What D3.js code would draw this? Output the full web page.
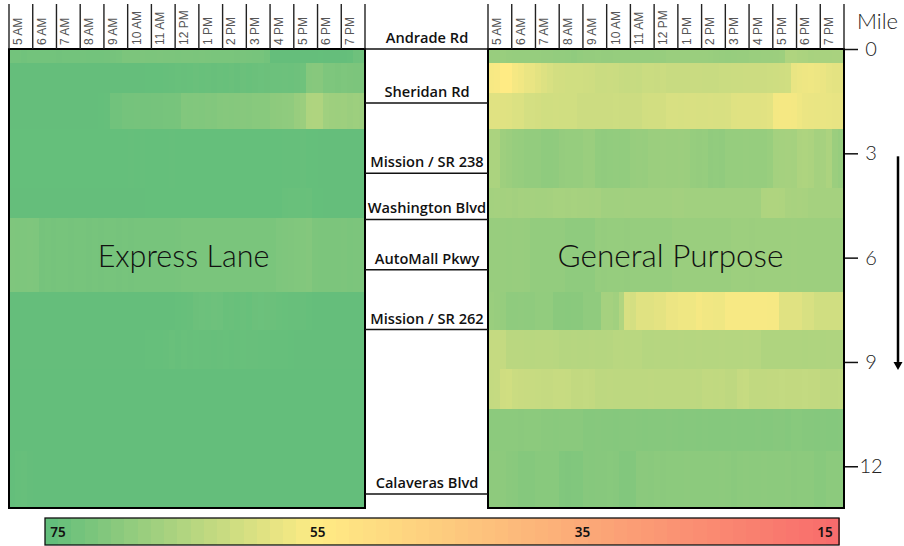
<!DOCTYPE html>
<html>
<head>
<meta charset="utf-8">
<script src="https://cdn.jsdelivr.net/npm/d3@7"></script>
<style>
  body { margin: 0; background: white; }
  svg { display: block; }
</style>
</head>
<body>
<div id="chart"></div>
<script>
// hours across the top, each one is 4 quarter hour columns
const hours = ["5 AM","6 AM","7 AM","8 AM","9 AM","10 AM","11 AM","12 PM","1 PM","2 PM","3 PM","4 PM","5 PM","6 PM","7 PM"];
// band edges along the corridor, in miles
const bandEdges = [0,0.4,1.27,2.3,4.0,4.85,7.0,8.07,9.2,10.35,11.55,13.2];
const roads = ["Andrade Rd","Sheridan Rd","Mission / SR 238","Washington Blvd","AutoMall Pkwy","Mission / SR 262","Calaveras Blvd"];
const roadMiles = [0,1.55,3.57,4.9,6.35,8.07,12.8];
const mileTicks = [0,3,6,9,12];
const legendLabels = [75,55,35,15];

// speeds, one row per band, 60 quarter hours per row
const expressSpeeds = [
  [73,73,73.2,73,73,72.9,73,73,73.1,73,73,73,72.8,73,73,73,72.8,72.6,72.5,71.8,71.8,71.8,71.7,71.8,71.8,71.7,71.8,71.8,71.9,71.8,71.8,71.9,71.8,71.9,72,72,72,72,72.2,72.2,72.3,72.4,72.5,73,74.8,74.8,74.8,74.8,74.8,74.8,74.8,74.8,74.7,74.8,74.8,74.8,74.8,74.6,73.6,73.5],
  [74.8,74.8,74.8,74.8,74.8,74.8,74.8,74.8,74.8,74.8,74.8,74.8,74.8,74.8,74.8,74.8,74.8,74.8,74.8,74.8,74.8,74.8,74.8,74.7,74.7,74.7,74.6,74.5,74.3,74.4,74.3,74.1,74.3,74.2,74.4,74.2,74.3,74.1,74.4,74,74.2,74,73.8,73.9,73.8,73.8,73.7,73.8,73.6,73.4,70.6,70.4,70.4,71.6,71.6,71.8,71.5,71.7,71.8,71.8],
  [74.8,74.8,74.8,74.8,74.8,74.8,74.8,74.8,74.8,74.8,74.8,74.8,74.8,74.8,74.8,74.7,74.6,73.2,73.2,72.7,72.7,72.6,72.7,72.7,72.6,72.6,72.5,72.4,72.3,71,71.2,71,71.1,70.9,71,70.6,70.5,70.6,70.5,70.4,70.5,70.3,70.3,70.2,69.6,69.5,69.3,69.2,68.2,67.8,65.4,65.2,65.3,67.2,67.5,67.6,67.4,67.8,67.6,67.7],
  [74.7,74.7,74.7,74.7,74.7,74.7,74.7,74.7,74.7,74.7,74.7,74.7,74.7,74.7,74.7,74.7,74.7,74.7,74.7,74.7,74.6,74.7,74.6,74.7,74.7,74.7,74.7,74.6,74.7,74.7,74.7,74.7,74.7,74.7,74.7,74.7,74.7,74.7,74.7,74.7,74.7,74.7,74.7,74.7,74.7,74.7,74.6,74.6,74.6,74.5,74.7,74.7,74.8,74.8,74.8,74.8,74.8,74.8,74.8,74.8],
  [74.8,74.8,74.8,74.8,74.8,74.8,74.8,74.8,74.8,74.8,74.8,74.8,74.8,74.8,74.8,74.8,74.8,74.8,74.8,74.8,74.8,74.8,74.8,74.7,74.7,74.7,74.7,74.7,74.7,74.7,74.7,74.7,74.7,74.7,74.7,74.7,74.7,74.7,74.7,74.7,74.7,74.7,74.7,74.7,74.7,74.7,74.3,74.2,74.2,74.3,74.2,74.7,74.7,74.8,74.8,74.8,74.8,74.8,74.8,74.8],
  [71.4,71.5,71.6,71.4,71.5,72.6,72.4,72.6,72.5,72.5,72.6,72.4,72.5,72.6,72.5,72.6,72.5,72.5,72.6,72.5,72.6,72.5,72.4,72.5,72.5,72.4,72.4,72.4,72.3,72,72,72.1,72,72,72.1,72,72,72.1,72,72,72,72,72,72,72,71.6,71.4,71.3,71.2,71,70.8,71.7,71.8,71.8,71.8,71.8,71.7,71.9,71.8,71.8],
  [74.8,74.8,74.8,74.8,74.8,74.8,74.8,74.8,74.8,74.8,74.8,74.8,74.8,74.8,74.8,74.8,74.8,74.8,74.8,74.8,74.8,74.8,74.8,74.8,74.8,74.8,74.8,74.8,74.6,74.5,74.4,73.9,73.7,73.8,73.6,73.7,74.2,74.1,74.3,74.1,74.3,73.9,73.8,73.9,74,74.2,74.3,74.4,74.4,74.4,74.6,74.8,74.8,74.8,74.8,74.8,74.8,74.8,74.8,74.8],
  [74.8,74.8,74.8,74.8,74.8,74.8,74.8,74.8,74.8,74.8,74.8,74.8,74.8,74.8,74.8,74.8,74.8,74.8,74.8,74.8,74.8,74.8,74.8,74.6,74.6,74.6,74.5,74.2,74.5,74.2,74.4,74.3,74.4,74.4,74.5,74.4,74.3,74.5,74.4,74.3,74.4,74.4,74.5,74.5,74.6,74.6,74.6,74.7,74.8,74.8,74.8,74.8,74.8,74.8,74.8,74.8,74.8,74.8,74.8,74.8],
  [74.9,74.9,74.9,74.9,74.9,74.9,74.9,74.9,74.9,74.9,74.9,74.9,74.9,74.9,74.9,74.9,74.9,74.9,74.9,74.9,74.9,74.9,74.9,74.9,74.9,74.9,74.9,74.9,74.9,74.9,74.9,74.9,74.9,74.9,74.9,74.9,74.9,74.9,74.9,74.9,74.9,74.9,74.9,74.9,74.9,74.9,74.9,74.9,74.9,74.9,74.9,74.9,74.9,74.9,74.9,74.9,74.9,74.9,74.9,74.9],
  [74.9,74.9,74.9,74.9,74.9,74.9,74.9,74.9,74.9,74.9,74.9,74.9,74.9,74.9,74.9,74.9,74.9,74.9,74.9,74.9,74.9,74.9,74.9,74.9,74.9,74.9,74.9,74.9,74.9,74.9,74.9,74.9,74.9,74.9,74.9,74.9,74.9,74.9,74.9,74.9,74.9,74.9,74.9,74.9,74.9,74.9,74.9,74.9,74.9,74.9,74.9,74.9,74.9,74.9,74.9,74.9,74.9,74.9,74.9,74.9],
  [74.9,74.6,74.5,74.8,74.9,74.9,74.9,74.9,74.9,74.9,74.9,74.9,74.9,74.9,74.9,74.9,74.9,74.9,74.9,74.9,74.9,74.9,74.9,74.9,74.9,74.9,74.9,74.9,74.9,74.9,74.9,74.9,74.9,74.9,74.9,74.9,74.9,74.9,74.9,74.9,74.9,74.9,74.9,74.9,74.9,74.9,74.9,74.9,74.9,74.9,74.9,74.9,74.9,74.9,74.9,74.9,74.9,74.9,74.9,74.9]
];

const generalSpeeds = [
  [68.2,68.2,68.1,68.3,68.4,68.4,68.5,68.5,68.4,68.6,68.6,68.8,68.8,69,69.2,68.8,68.6,68.6,68.5,68.6,68.6,68.4,68.4,68.5,68.5,68.4,68.5,68.4,68.3,68.3,68,68,68,68,68,68,68,68.1,68.2,68.3,68.5,68.3,68.2,68.2,68,67.9,67.8,67.8,67.7,67.6,65.3,65.2,65.6,65.8,66.1,66,66.1,66.2,66,66],
  [56,55.8,55,55,56.3,56.8,57.7,57.8,58.6,59.4,60,60.6,60.8,61,61,61,61.1,61.3,61.8,61.8,61.7,61.8,62.2,62.3,62.2,62.3,61.8,61.8,61.9,61.7,62,62.1,62,62,61.9,61.9,62,62,62,61.8,61.8,61.7,61.7,61.6,61.6,61.5,61.5,61.4,61.3,61.2,61,57.8,57.4,57.2,57,57.3,57.6,58.2,58.4,58.5],
  [59,59,59,59.1,59.6,59.6,60.5,60.5,60.6,61,61,60.9,61,61,61,61.5,61.6,61.5,61.6,61.5,61.6,61.4,61.5,61.6,61.5,61.5,60.9,60.8,60.8,60.7,60,60,60.1,60,59.9,60,60,59.9,60,60,59.9,59.1,59,59,59,59,58.9,58.6,56.4,56.3,56.3,56.4,57,57.6,57.7,57.8,57.7,57.8,58,58],
  [65.8,65.8,67.4,67.8,68.3,68.4,68.9,68.8,68.9,69.4,69.3,69.2,68.6,68.5,68.5,68.4,68,68,69,69.1,69,68.9,69,69,68.3,68.2,68.3,67.8,67.8,67.7,67.8,67.8,67.7,67.8,68.5,68.6,68.4,69.1,69,69.1,68.5,68.4,68.4,68.3,68.4,68.4,68.5,68.1,66.7,66.6,66.4,66.6,65.5,65.4,65.6,66.6,66.4,65.6,67.8,68.3],
  [66.7,66.6,66.7,66.6,66.8,66.6,66.7,66.6,66.7,66.7,66.6,66.3,66.3,66.4,66.3,66.4,66.4,66.5,66.4,67,67,67.1,67,66.9,67,67,67.1,67,67,67,67,66.8,66.8,67,67,67.1,67,67,67,67,67,67,67,67,67,67.1,65.4,65.3,65.2,65.4,66,66.1,66,66.1,66.5,66.6,66.5,66.6,66.5,66.5],
  [68.2,68.2,68.2,68.3,68.2,68.2,68.3,68.8,68.8,68.9,68.8,68.8,68.9,69.3,69.4,69.3,69.3,69.3,68.5,68.6,68.5,68.5,68.4,68.6,68.5,68.5,68.4,68.5,68.5,68.5,68.5,67.9,67.9,68,67.9,67.9,67.9,68,67.9,67.9,67.9,67.6,67.6,67.6,67.7,67.6,67.6,67.6,67.6,67.6,67.6,67.5,67.6,67.6,67.6,67.6,67.6,67.6,67.6,67.6],
  [68,68.2,68.4,69.3,69.3,69.2,69.3,69.3,69,69,69,70,70,70.1,70,70,69.2,69.2,69.2,66.5,66.5,67,65,60,60.5,59,59,59,58.5,58.5,57.5,57.5,57,57,57,56.3,56.8,56.8,57,57,56,56,56,56,56,56,56,56.1,56.1,59,59,59,59,60,60,61,61,61,61,61],
  [62.5,62.5,62.6,63.8,63.8,63.9,64,64.1,64,64,64,64.1,64.5,64.5,64.4,64.5,64.5,64.4,64.5,64.5,64.4,64,64,64.1,64,64,64.5,64.5,64.4,64.5,64.5,64.5,64.4,64.5,64.5,64.4,64.5,64.5,64.5,64.4,64.5,64.5,64.5,64.4,64.5,64.5,65.2,65.2,65.3,65.2,65.2,65.3,65.3,65.4,65.3,65.3,65.4,65.3,65.3,65.3],
  [62.6,62.4,61.2,61,61.8,61.9,62,62.2,62.3,62.4,62.5,62.2,62.2,62.3,62.8,62.8,62.7,62.8,63.4,63.4,63.3,63.4,63.4,63.4,63.5,63.4,63.4,63.3,63.4,63.4,63.4,63.4,63.4,63.4,63.3,63.4,63,63,63.1,63,63.3,63.3,62.4,62.3,63,63,63,62.8,62.8,62.7,62.8,62.8,62.8,62.7,62.8,62.8,63.3,63.3,63.3,63.2],
  [69.8,69.8,69.7,69.8,69.8,69.9,69.8,69.7,69.8,70,70,70.1,70,70,70,70,70.5,70.5,70.4,70.5,70.5,70.6,70.5,70.5,70.4,70.5,70.6,70.5,70.5,70.5,70.4,70.5,70.6,70.5,70.5,70.6,70.5,70.6,70.7,70.6,70.6,70.5,70.6,70.7,70.6,70.5,70.6,70.7,70.4,70.4,70.7,70.3,70.3,70.5,70.5,70.6,70.5,70.6,70.6,70.5],
  [69.5,69.5,69.6,70,70.1,70.7,70.7,70.6,70.2,70.2,70.3,70.2,71.2,71.3,71.2,71.1,70.4,70.5,70.4,70.4,70.3,70.4,71,71,70.9,69.9,69.9,70,69.8,69.9,69.7,69.7,69.8,69.6,69.7,69.8,69.7,69.7,69.8,69.6,69.7,70,69.7,69.6,69.8,69.7,69.6,69.8,69.7,69.8,69.6,69.9,69.7,69.8,69.8,70.2,70.3,69.8,69.7,69.7]
];

const svg = d3.select("#chart").append("svg")
  .attr("width", 904)
  .attr("height", 546);

const y = d3.scaleLinear().domain([0, 13.2]).range([49, 508]);
const color = d3.scaleLinear().domain([75, 55, 15]).range(["#63BE7B", "#FFEB84", "#F8696B"]);

// one heatmap panel
function panel(x0, x1, speeds, name, nameX, nameSize) {
  const x = d3.scaleLinear().domain([0, 60]).range([x0, x1]);
  const g = svg.append("g");

  speeds.forEach((row, r) => {
    g.selectAll(null)
      .data(row)
      .join("rect")
      .attr("x", (d, i) => x(i))
      .attr("y", y(bandEdges[r]))
      .attr("width", (d, i) => x(i + 1) - x(i) + 0.5)
      .attr("height", y(bandEdges[r + 1]) - y(bandEdges[r]))
      .attr("fill", d => color(d))
      .attr("shape-rendering", "crispEdges");
  });

  g.append("rect")
    .attr("x", x0).attr("y", y(0))
    .attr("width", x1 - x0).attr("height", y(13.2) - y(0))
    .attr("fill", "none").attr("stroke", "black").attr("stroke-width", 2);

  // hour columns on top
  g.selectAll(".hourline")
    .data(d3.range(0, hours.length + 1))
    .join("line")
    .attr("x1", d => x(d * 4)).attr("x2", d => x(d * 4))
    .attr("y1", 4).attr("y2", y(0))
    .attr("stroke", "#222").attr("stroke-width", 1.4);

  g.selectAll(".hour")
    .data(hours)
    .join("text")
    .attr("transform", (d, i) => `translate(${x(i * 4 + 2) + 1},45) rotate(-90)`)
    .attr("font-family", "'Liberation Sans', Arial, sans-serif")
    .attr("font-size", 12)
    .attr("fill", "#555")
    .text(d => d);

  g.append("text")
    .attr("x", nameX).attr("y", 267)
    .attr("text-anchor", "middle")
    .attr("font-family", "Lato, sans-serif")
    .attr("font-weight", 300)
    .attr("font-size", nameSize)
    .attr("fill", "#111")
    .text(name);
}

panel(9, 365, expressSpeeds, "Express Lane", 183.5, 30.5);
panel(488, 844, generalSpeeds, "General Purpose", 670.5, 31.5);

// road names between the panels
svg.selectAll(".road")
  .data(roadMiles)
  .join("line")
  .attr("x1", 365).attr("x2", 488)
  .attr("y1", d => y(d)).attr("y2", d => y(d))
  .attr("stroke", "#111").attr("stroke-width", 1.5);

svg.selectAll(".roadname")
  .data(roads)
  .join("text")
  .attr("x", 427)
  .attr("y", (d, i) => y(roadMiles[i]) - 6)
  .attr("text-anchor", "middle")
  .attr("font-family", "'Open Sans', sans-serif")
  .attr("font-weight", 600)
  .attr("font-size", 14.6)
  .attr("fill", "#111")
  .text(d => d);

// mile axis on the right
const axis = svg.append("g")
  .attr("transform", "translate(845,0)")
  .call(d3.axisRight(y).tickValues(mileTicks).tickSize(13).tickPadding(13).tickFormat(d3.format("d")));
axis.select(".domain").remove();
axis.selectAll("line").attr("stroke", "#111").attr("stroke-width", 1.5);
axis.selectAll("text")
  .attr("text-anchor", "middle")
  .attr("font-family", "Lato, sans-serif")
  .attr("font-weight", 300)
  .attr("font-size", 20)
  .attr("fill", "#222");

svg.append("text")
  .attr("x", 857).attr("y", 29)
  .attr("font-family", "Lato, sans-serif")
  .attr("font-weight", 300)
  .attr("font-size", 22)
  .attr("fill", "#222")
  .text("Mile");

// direction arrow
svg.append("line")
  .attr("x1", 898).attr("x2", 898)
  .attr("y1", y(3) + 3).attr("y2", y(9))
  .attr("stroke", "black").attr("stroke-width", 2.5);
svg.append("path")
  .attr("d", d3.line()([[893.5, y(9)], [902.5, y(9)], [898, y(9) + 8]]) + "Z")
  .attr("fill", "black");

// colour legend
const legendValues = d3.range(75, 15, -1);
const legendX = d3.scaleBand().domain(legendValues).range([45, 839]);
svg.selectAll(".legendcell")
  .data(legendValues)
  .join("rect")
  .attr("x", d => legendX(d))
  .attr("y", 518)
  .attr("width", legendX.bandwidth() + 0.5)
  .attr("height", 27)
  .attr("fill", d => color(d))
  .attr("shape-rendering", "crispEdges");
svg.append("rect")
  .attr("x", 45).attr("y", 518)
  .attr("width", 794).attr("height", 27)
  .attr("fill", "none").attr("stroke", "#111").attr("stroke-width", 1.3);

svg.selectAll(".legendlabel")
  .data(legendLabels)
  .join("text")
  .attr("x", d => d === 15 ? 825 : d === 75 ? 58 : legendX(d) + legendX.bandwidth() / 2 + 1.5)
  .attr("y", 537)
  .attr("text-anchor", "middle")
  .attr("font-family", "'Noto Sans', sans-serif")
  .attr("font-weight", 600)
  .attr("font-size", 13.5)
  .attr("fill", "#111")
  .text(d => d);
</script>
</body>
</html>
